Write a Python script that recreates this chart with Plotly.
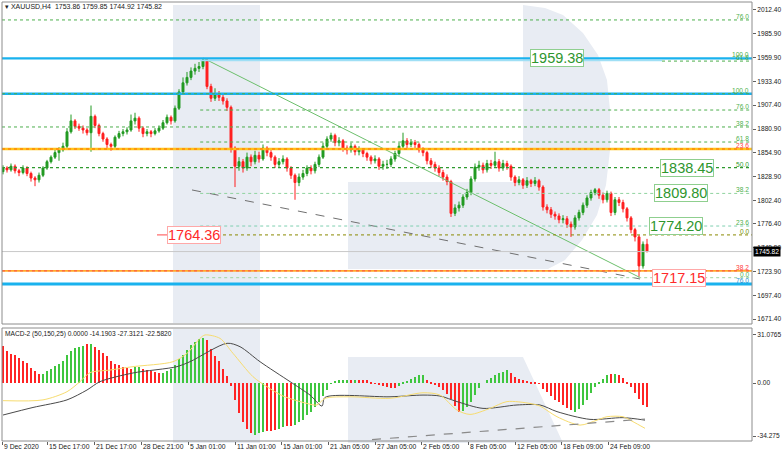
import plotly.graph_objects as go

W, H = 782, 452

# ---------------- data ----------------
opens = [1834,1838,1836,1840,1835,1833,1838,1832,1827,1825,
         1830,1838,1845,1850,1855,1858,1862,1878,1890,1884,
         1882,1880,1877,1895,1885,1876,1870,1864,1862,1872,
         1876,1878,1880,1890,1893,1882,1876,1878,1876,1879,
         1882,1888,1894,1890,1904,1922,1932,1938,1945,1948,
         1950,1957,1928,1915,1920,1916,1912,1905,1860,1840,
         1845,1838,1850,1845,1852,1848,1860,1855,1850,1842,
         1845,1848,1838,1830,1822,1828,1832,1838,1835,1842,
         1850,1862,1870,1874,1866,1868,1860,1858,1862,1856,
         1858,1854,1850,1846,1848,1840,1842,1842,1848,1854,
         1862,1868,1864,1866,1864,1858,1855,1846,1842,1838,
         1833,1828,1823,1788,1794,1797,1806,1811,1826,1839,
         1841,1836,1843,1841,1845,1838,1843,1840,1828,1822,
         1825,1819,1824,1821,1824,1817,1795,1792,1787,1785,
         1781,1782,1776,1773,1783,1789,1797,1805,1811,1814,
         1808,1803,1810,1789,1803,1800,1793,1783,1770,1762,
         1730,1753.86]
closes = [1838,1836,1840,1835,1833,1838,1832,1827,1825,1830,
          1838,1845,1850,1855,1858,1862,1878,1890,1884,1882,
          1880,1877,1895,1885,1876,1870,1864,1862,1872,1876,
          1878,1880,1890,1893,1882,1876,1878,1876,1879,1882,
          1888,1894,1890,1904,1922,1932,1938,1945,1948,1950,
          1957,1928,1915,1920,1916,1912,1905,1860,1840,1845,
          1838,1850,1845,1852,1848,1860,1855,1850,1842,1845,
          1848,1838,1830,1822,1828,1832,1838,1835,1842,1850,
          1862,1870,1874,1866,1868,1860,1858,1862,1856,1858,
          1854,1850,1846,1848,1840,1842,1842,1848,1854,1862,
          1868,1864,1866,1864,1858,1855,1846,1842,1838,1833,
          1828,1823,1788,1794,1797,1806,1811,1826,1839,1841,
          1836,1843,1841,1845,1838,1843,1840,1828,1822,1825,
          1819,1824,1821,1824,1817,1795,1792,1787,1785,1781,
          1782,1776,1773,1783,1789,1797,1805,1811,1814,1808,
          1803,1810,1789,1803,1800,1793,1783,1770,1762,1730,
          1753.86,1745.82]
highs = [1841,1840,1843,1842,1837,1841,1840,1834,1829,1833,
         1840,1847,1852,1858,1861,1866,1882,1897,1892,1887,
         1885,1882,1907,1897,1887,1878,1872,1866,1874,1879,
         1881,1883,1897,1899,1895,1884,1881,1880,1882,1885,
         1891,1897,1896,1907,1925,1938,1944,1949,1953,1955,
         1959.4,1958,1931,1926,1923,1919,1915,1907,1862,1850,
         1848,1855,1853,1857,1856,1864,1862,1858,1852,1849,
         1852,1850,1840,1832,1832,1836,1841,1841,1845,1853,
         1866,1873,1877,1876,1872,1870,1863,1866,1864,1862,
         1860,1856,1852,1852,1850,1846,1847,1851,1857,1866,
         1877,1871,1870,1869,1866,1861,1857,1849,1845,1841,
         1836,1831,1825,1798,1801,1809,1815,1829,1843,1846,
         1844,1847,1847,1856,1848,1847,1846,1842,1830,1829,
         1827,1828,1826,1828,1826,1819,1798,1795,1790,1788,
         1786,1785,1779,1786,1792,1800,1808,1814,1816,1816,
         1811,1813,1812,1806,1806,1803,1795,1785,1772,1764,
         1757,1759.85]
lows = [1831,1833,1834,1832,1829,1831,1829,1823,1818,1822,
        1828,1836,1843,1848,1846,1856,1860,1876,1881,1879,
        1876,1874,1856,1882,1873,1867,1860,1857,1860,1870,
        1873,1875,1878,1886,1878,1872,1873,1872,1874,1877,
        1880,1886,1886,1888,1902,1920,1929,1935,1941,1944,
        1947,1925,1911,1912,1912,1908,1901,1855,1817,1835,
        1833,1835,1840,1842,1844,1846,1851,1846,1838,1838,
        1842,1834,1826,1803,1818,1825,1829,1831,1832,1839,
        1848,1859,1867,1862,1862,1856,1853,1855,1852,1852,
        1850,1846,1842,1843,1836,1836,1837,1839,1845,1851,
        1859,1860,1861,1860,1855,1851,1842,1838,1834,1829,
        1824,1819,1784,1785,1790,1794,1803,1808,1823,1835,
        1832,1833,1837,1838,1834,1835,1836,1824,1818,1819,
        1815,1816,1817,1818,1813,1791,1788,1783,1781,1777,
        1777,1772,1762,1770,1780,1786,1794,1802,1808,1804,
        1799,1800,1785,1786,1796,1789,1779,1766,1757,1718,
        1727,1744.92]

macd_hist = [24,20.5,19,18,16.5,14.5,12.7,10,7.5,6,
             6,7.5,9,10.7,12.5,14.5,18,20.7,22.5,23.3,
             23.8,25,25.2,23.5,21.5,19.5,17.3,14.5,12.5,11.4,
             10.5,9.7,9.3,10.3,10.3,9,8.4,7.8,7.2,6.5,
             6.8,7.5,9,11.5,15.5,18,21.3,24.3,26.8,28.4,
             29,28,22.3,17.5,14,9,4.3,-2,-11,-19.5,
             -25.5,-30,-32.5,-33.3,-32.5,-31.8,-31.3,-30.8,-30.3,-29.5,
             -28.5,-27.6,-27.8,-27,-25.5,-23.7,-21,-18.5,-15.5,-12,
             -8.6,-4.3,-0.5,1.5,2.2,2.1,2,2.1,2.2,2,
             1.8,1.7,0.6,-0.5,-1.4,-2.2,-2.8,-3.2,-3.5,-2,
             0.3,1.5,2.6,4,5.2,5.5,2.2,0.4,-1.2,-2.8,
             -4.8,-7,-10.5,-15,-18.5,-18.3,-15.5,-12,-7.5,-3.2,
             0,2.2,3.5,4.9,6.2,7.3,8.5,6.5,4.2,2.6,
             2,1.5,0.8,0.3,-0.3,-3.6,-6,-8.5,-10.8,-12.5,
             -14.5,-16.3,-17.6,-18.8,-16.8,-14,-10.8,-6.5,-2.5,0.5,
             2.6,5,5.8,6,5.5,3.5,0.6,-2.5,-6.5,-10.5,
             -14.3,-15.5]
# R = falling (red), G = rising (green), one letter per bar
macd_dir = ("RRRRRRRRRR" "GGGGGGGGGGG" "R" "G" "RRRRRRRRRR" "GG" "RRRRR"
            "GGGGGGGGGGG" "RRRRRRRRRRRR" "GGG" "RRR" "GG" "RR"
            "GGGGGGGGGGGGGG" "R" "G" "RRRRRRRRRR" "GGGGGGG" "RRRRRRRRR"
            "GGGGGGGGGGGG" "RRRRRRRRRRRRRRRR" "GGGGGGGGG" "R" "G" "RRRRRRRR")

macd_main_idx = [0,7.5,16,21,24.25,32.5,43.5,46.75,56,59.25,64.25,71.75,76.75,79.75,
                 80.5,96.75,105,109.25,113.5,120,128.5,134.25,138.5,146.75,155,160.5]
macd_main_val = [-20.7,-15.8,-10.9,-4.5,0.9,6.5,10.6,13.8,25.7,23.5,13.8,0.9,-7.8,-14.9,
                 -9.3,-8.9,-7.8,-8.4,-12,-16.4,-14.2,-14.2,-18.5,-23.5,-22.4,-24]
macd_sig_idx = [0,10,16,19.25,21.75,26.75,32.5,42.5,46,49.25,50.5,54.25,57.5,62.5,66,70,76,
                78.5,80.5,86.75,96.75,105,109.25,113.5,116.75,121.75,126,131.75,134.25,
                138.5,144.25,148.5,151,155,157.5,160.5]
macd_sig_val = [-11.4,-10.9,-5.6,0.9,6.7,8.4,10.6,13.8,19.2,28.9,31.1,28.9,19.2,4.1,-2.4,-8.4,
                -13.2,-14.2,-9.9,-8.9,-9.9,-6.3,-7.8,-17.5,-20.3,-16.4,-12,-13.2,-14.9,
                -21.8,-27.2,-24,-21.8,-21.8,-25,-29.3]
macd_trend_idx = [92.25, 160.5]
macd_trend_val = [-36.6, -23.3]

# trend lines on price pane
fan_idx = [50, 159.25]
fan_val = [1959.4, 1717.15]
chan_idx = [47.25, 159.25]
chan_val = [1813.8, 1715.6]

price_ticks = [2012.40,1985.90,1959.90,1933.40,1907.40,1880.90,1854.90,1828.90,
               1802.40,1776.40,1749.90,1723.90,1697.40,1671.40]
macd_ticks = [31.0765, 0.0, -34.275]
macd_tick_text = ["31.0765", "0.00", "-34.275"]

time_tick_idx = [-0.2,11,22.75,34.5,46.25,58,69.5,81.25,93,104.5,116.25,128,139.5,151.25]
time_labels = ["9 Dec 2020","15 Dec 17:00","21 Dec 17:00","28 Dec 21:00","5 Jan 01:00",
               "11 Jan 01:00","15 Jan 01:00","21 Jan 05:00","27 Jan 05:00","2 Feb 05:00",
               "8 Feb 05:00","12 Feb 05:00","18 Feb 09:00","24 Feb 09:00"]

# fibonacci / level lines: (price, colour, width, dash, start index or None = full)
GREEN = "#4daf4d"
levels = [
    (2001.4, GREEN, 1, "dot", None),
    (1920.0, "#19b2ee", 2.6, "solid", None),
    (1920.0, GREEN, 1, "dot", None),
    (1959.0, "#19b2ee", 2.2, "solid", None),
    (1902.0, GREEN, 1, "dot", 49.3),
    (1883.3, GREEN, 1, "dot", None),
    (1866.7, GREEN, 1, "dot", 49.3),
    (1859.0, "#ffc21a", 2.6, "solid", None),
    (1859.0, "#ff6a00", 1, "dot", None),
    (1838.4, "#2f9a2f", 1.3, "dot", None),
    (1810.0, "#8fd39f", 1, "dot", 49.3),
    (1774.0, "#7fcfb0", 1, "dot", 49.3),
    (1764.2, "#8a8a00", 1, "dot", 41.5),
    (1745.82, "#c8c8c8", 1, "solid", None),
    (1724.5, "#ffaa2a", 1.8, "solid", None),
    (1724.5, "#ff4a4a", 1, "dot", None),
    (1717.0, "#9fd49f", 1, "dot", 49.3),
    (1710.0, "#19b2ee", 3, "solid", None),
]
right_labels = [
    ("76.0", 2001.4, GREEN), ("100.0", 1959.0, GREEN), ("61.8", 1955.6, GREEN),
    ("100.0", 1920.0, GREEN), ("76.0", 1902.0, GREEN), ("38.2", 1883.3, GREEN),
    ("61.8", 1866.7, GREEN), ("23.6", 1859.0, "#ff3b3b"), ("50.0", 1838.4, "#2f9a2f"),
    ("38.2", 1810.0, GREEN), ("23.6", 1774.0, GREEN), ("0.0", 1764.2, "#6f8f00"),
    ("38.2", 1724.5, "#ff3b3b"), ("0.0", 1717.0, GREEN), ("76.0", 1710.0, "#1a8fd0"),
]
price_boxes = [
    ("1959.38", 138.5, 1959.38, "#2e962e", "#8fcf8f"),
    ("1838.45", 171.1, 1838.45, "#2e962e", "#8fcf8f"),
    ("1809.80", 169.5, 1810.0, "#2e962e", "#8fcf8f"),
    ("1774.20", 168.25, 1774.0, "#2e962e", "#8fcf8f"),
    ("1764.36", 47.75, 1764.2, "#ff2a2a", "#ffa8a8"),
    ("1717.15", 169.1, 1716.2, "#ff2a2a", "#ffa8a8"),
]

# ---------------- layout helpers (pixel -> paper) ----------------
def pxx(p):
    return p / W

def pxy(p):
    return 1 - p / H

X0, X1 = 2, 752
MAIN_T, MAIN_B = 2, 324
MACD_T, MACD_B = 328, 441
idx = list(range(len(closes)))

fig = go.Figure()

fig.add_trace(go.Candlestick(
    x=idx, open=opens, high=highs, low=lows, close=closes,
    increasing=dict(line=dict(color="#229a22", width=1), fillcolor="#229a22"),
    decreasing=dict(line=dict(color="#ff1f1f", width=1), fillcolor="#ff1f1f"),
    whiskerwidth=0, xaxis="x", yaxis="y", showlegend=False, hoverinfo="skip"))

fig.add_trace(go.Scatter(x=fan_idx, y=fan_val, mode="lines",
                         line=dict(color="#6cbf6c", width=1), xaxis="x", yaxis="y",
                         showlegend=False, hoverinfo="skip"))
fig.add_trace(go.Scatter(x=chan_idx, y=chan_val, mode="lines",
                         line=dict(color="#707070", width=1, dash="dash"), xaxis="x", yaxis="y",
                         showlegend=False, hoverinfo="skip"))

bar_cols = ["#3fc63f" if d == "G" else "#ff2424" for d in macd_dir]
fig.add_trace(go.Bar(x=idx, y=macd_hist, marker=dict(color=bar_cols, line=dict(width=0)),
                     width=0.62, xaxis="x2", yaxis="y2", showlegend=False, hoverinfo="skip"))
fig.add_trace(go.Scatter(x=macd_main_idx, y=macd_main_val, mode="lines",
                         line=dict(color="#4a4a4a", width=1, shape="spline", smoothing=0.8),
                         xaxis="x2", yaxis="y2", showlegend=False, hoverinfo="skip"))
fig.add_trace(go.Scatter(x=macd_sig_idx, y=macd_sig_val, mode="lines",
                         line=dict(color="#f7dc6f", width=1, shape="spline", smoothing=0.8),
                         xaxis="x2", yaxis="y2", showlegend=False, hoverinfo="skip"))
fig.add_trace(go.Scatter(x=macd_trend_idx, y=macd_trend_val, mode="lines",
                         line=dict(color="#8a8a8a", width=1.2, dash="dash"),
                         xaxis="x2", yaxis="y2", showlegend=False, hoverinfo="skip"))

shapes = []
SHADE = "#e8ecf3"

def poly(points):
    return "M " + " L ".join(f"{pxx(a):.5f},{pxy(b):.5f}" for a, b in points) + " Z"

# watermark "R"
for pts in [
    [(173, 5), (260, 5), (260, 323), (173, 323)],
    [(173, 329), (260, 329), (260, 443), (173, 443)],
    [(523, 5), (545, 8), (563, 15), (583, 33), (598, 55), (607, 80), (610, 110), (610, 150),
     (606, 185), (597, 215), (582, 240), (565, 260), (548, 269), (348, 269), (348, 182),
     (523, 182)],
    [(348, 357), (523, 357), (563, 443), (348, 443)],
]:
    shapes.append(dict(type="path", path=poly(pts), xref="paper", yref="paper",
                       fillcolor=SHADE, line=dict(width=0), layer="below"))

for price, col, wd, dash, start in levels:
    if start is None:
        shapes.append(dict(type="line", xref="x domain", yref="y", x0=0, x1=1, y0=price, y1=price,
                           line=dict(color=col, width=wd, dash=dash), layer="above"))
    else:
        shapes.append(dict(type="line", xref="x", yref="y", x0=start, x1=187.25, y0=price, y1=price,
                           line=dict(color=col, width=wd, dash=dash), layer="above"))
# light second line under the top level
shapes.append(dict(type="line", xref="x", yref="y", x0=49.3, x1=164.75, y0=1956.6, y1=1956.6,
                   line=dict(color="#9fdff5", width=1.6), layer="above"))
shapes.append(dict(type="line", xref="x", yref="y", x0=164.75, x1=187.25, y0=1956.0, y1=1956.0,
                   line=dict(color=GREEN, width=1, dash="dot"), layer="above"))
# red pointer left of 1764.36
shapes.append(dict(type="line", xref="x", yref="y", x0=38.5, x1=41.5, y0=1764.2, y1=1764.2,
                   line=dict(color="#ff4a4a", width=1), layer="above"))

# frames
for t, b in [(MAIN_T, MAIN_B), (MACD_T, MACD_B)]:
    shapes.append(dict(type="rect", xref="paper", yref="paper", x0=pxx(X0), x1=pxx(X1),
                       y0=pxy(b), y1=pxy(t), line=dict(color="#8c8c8c", width=1),
                       fillcolor="rgba(0,0,0,0)", layer="above"))

annotations = []
FONT = "Liberation Sans"
annotations.append(dict(text="▾ XAUUSD,H4  1753.86 1759.85 1744.92 1745.82", xref="paper", yref="paper",
                        x=pxx(3), y=pxy(7), xanchor="left", yanchor="middle", showarrow=False,
                        font=dict(family=FONT, size=7, color="#202020")))
annotations.append(dict(text="MACD-2 (50,150,25) 0.0000 -14.1903 -27.3121 -22.5820", xref="paper",
                        yref="paper", x=pxx(3), y=pxy(334), xanchor="left", yanchor="middle",
                        showarrow=False, font=dict(family=FONT, size=6.6, color="#202020")))
for tx, lab in zip(time_tick_idx, time_labels):
    annotations.append(dict(text=lab, xref="x2", yref="paper", x=tx, y=pxy(446.5), xanchor="left",
                            yanchor="middle", xshift=0, showarrow=False,
                            font=dict(family=FONT, size=6.8, color="#202020")))
for tx, pr, col in right_labels:
    annotations.append(dict(text=tx, xref="paper", yref="y", x=pxx(751), y=pr, xanchor="right",
                            yanchor="bottom", yshift=-2, showarrow=False,
                            font=dict(family=FONT, size=6.6, color=col)))
for tx, xi, pr, col, bcol in price_boxes:
    annotations.append(dict(text=tx, xref="x", yref="y", x=xi, y=pr, xanchor="center",
                            yanchor="middle", showarrow=False, bgcolor="white", bordercolor=bcol,
                            borderwidth=1, borderpad=0,
                            font=dict(family=FONT, size=14.5, color=col)))
annotations.append(dict(text="1745.82", xref="paper", yref="y", x=pxx(752.5), y=closes[-1],
                        xanchor="left", yanchor="middle", showarrow=False, bgcolor="#000000",
                        borderpad=1, font=dict(family=FONT, size=6.6, color="white")))

fig.update_layout(
    width=W, height=H, autosize=False,
    margin=dict(l=0, r=0, t=0, b=0),
    paper_bgcolor="white", plot_bgcolor="white",
    showlegend=False, bargap=0,
    shapes=shapes, annotations=annotations,
    xaxis=dict(domain=[pxx(X0), pxx(X1)], range=[-0.25, 187.25], anchor="y",
               showgrid=False, zeroline=False, showticklabels=False, rangeslider=dict(visible=False),
               fixedrange=True),
    xaxis2=dict(domain=[pxx(X0), pxx(X1)], range=[-0.25, 187.25], anchor="y2", matches="x",
                showgrid=False, zeroline=False, showticklabels=False, ticks="outside",
                tickvals=time_tick_idx, ticklen=3, tickcolor="#606060"),
    yaxis=dict(domain=[pxy(MAIN_B), pxy(MAIN_T)], range=[1665.9, 2021.2], side="right",
               anchor="x", showgrid=False, zeroline=False, tickvals=price_ticks,
               ticktext=[f"{v:.2f}" for v in price_ticks], ticks="outside", ticklen=3,
               tickcolor="#606060", tickfont=dict(family=FONT, size=6.6, color="#202020")),
    yaxis2=dict(domain=[pxy(MACD_B), pxy(MACD_T)], range=[-37.5, 35.6], side="right",
                anchor="x2", showgrid=False, zeroline=False, tickvals=macd_ticks,
                ticktext=macd_tick_text, ticks="outside", ticklen=3, tickcolor="#606060",
                tickfont=dict(family=FONT, size=6.6, color="#202020")),
)

fig.write_html("out.html", config={"displayModeBar": False},
               post_script="document.body.style.margin='0';document.body.style.overflow='hidden';")
